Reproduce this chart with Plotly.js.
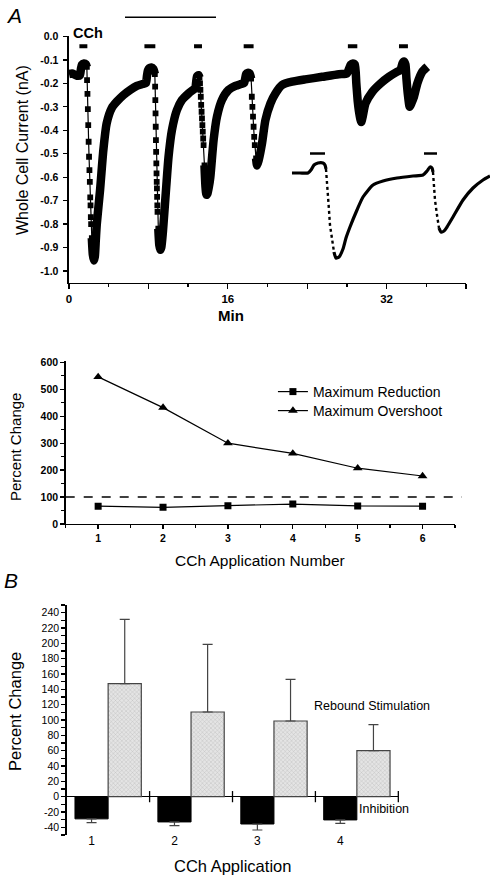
<!DOCTYPE html>
<html><head><meta charset="utf-8">
<script src="https://cdn.plot.ly/plotly-3.0.1.min.js"></script>
<style>html,body{margin:0;padding:0;background:#fff}#chart{width:490px;height:879px}</style>
</head><body><div id="chart"></div>
<script>
// ---------- Panel A (top): whole-cell current (nA) vs time (min) ----------
// slowly changing parts of the record (drawn as the dense, thick trace)
const recTime = [
  0.0,0.3,0.6,0.9,1.1,1.2,1.3,1.5,1.7,1.8, null,
  2.3,2.4,2.5,2.6,2.7,2.8, 3.13,3.46,3.8,4.31,4.81,5.48,6.16,6.83,7.4,7.75, 7.85,7.95,8.1,8.3,8.5,8.65, null,
  9.0,9.1,9.2,9.3,9.45,9.52, 9.8,10.03,10.37,10.87,11.38,12.04,12.5,12.72, 12.8,12.9,13.05,13.15, null,
  13.65,13.75,13.85,13.95,14.1,14.24, 14.57,14.91,15.41,16.08,16.76,17.3,17.65, 17.75,17.85,18.0,18.2,18.35, null,
  18.85,18.95,19.1, 19.45,19.79,20.3,20.8,21.47,22.48,23.8,25.5,27.19,28.0, 28.2,28.4,28.6,28.8,
  28.95,29.1,29.3,29.45,29.6, 29.88,30.56,31.4,32.24,33.08,33.4, 33.6,33.75,33.9,
  34.0,34.15,34.33,34.5, 34.76,35.1,35.6,36.1
];
const recCurrent = [
  -0.160,-0.158,-0.163,-0.168,-0.165,-0.140,-0.120,-0.115,-0.118,-0.130, null,
  -0.860,-0.930,-0.955,-0.940,-0.870,-0.800, -0.655,-0.485,-0.370,-0.305,-0.278,-0.250,-0.228,-0.211,-0.203,-0.198, -0.170,-0.145,-0.135,-0.132,-0.138,-0.160, null,
  -0.820,-0.890,-0.910,-0.900,-0.840,-0.800, -0.640,-0.513,-0.400,-0.314,-0.271,-0.243,-0.228,-0.221, -0.200,-0.170,-0.165,-0.175, null,
  -0.550,-0.640,-0.675,-0.670,-0.640,-0.600, -0.442,-0.342,-0.271,-0.228,-0.211,-0.203,-0.198, -0.180,-0.160,-0.155,-0.158,-0.180, null,
  -0.520,-0.550,-0.530, -0.456,-0.357,-0.285,-0.243,-0.207,-0.193,-0.183,-0.172,-0.161,-0.158, -0.140,-0.120,-0.115,-0.120,
  -0.200,-0.280,-0.340,-0.365,-0.340, -0.285,-0.236,-0.200,-0.172,-0.150,-0.143, -0.115,-0.107,-0.120,
  -0.180,-0.250,-0.300,-0.285, -0.257,-0.200,-0.150,-0.129
];
// fast falling phases, where individual samples are visible
const dropTime = [
  1.8,1.82,1.86,1.90,1.94,1.98,2.02,2.06,2.10,2.14,2.17,2.20,2.23,2.3, null,
  8.65,8.68,8.70,8.72,8.74,8.76,8.78,8.80,8.82,8.84,8.86,8.88,8.90,8.92,9.0, null,
  13.15,13.20,13.24,13.28,13.32,13.36,13.40,13.44,13.48,13.52,13.56,13.65, null,
  18.35,18.42,18.48,18.54,18.60,18.66,18.72,18.85
];
const dropCurrent = [
  -0.130,-0.186,-0.245,-0.310,-0.378,-0.449,-0.513,-0.570,-0.620,-0.686,-0.720,-0.770,-0.800,-0.860, null,
  -0.160,-0.214,-0.271,-0.328,-0.385,-0.442,-0.492,-0.541,-0.584,-0.620,-0.648,-0.684,-0.720,-0.748,-0.820, null,
  -0.175,-0.200,-0.228,-0.257,-0.292,-0.321,-0.349,-0.378,-0.406,-0.435,-0.463,-0.550, null,
  -0.180,-0.257,-0.300,-0.342,-0.385,-0.428,-0.463,-0.520
];
// CCh application periods (min)
const cchOn  = [1.05, 7.6, 12.6, 17.6, 28.1, 33.25];
const cchOff = [1.85, 8.7, 13.4, 18.6, 29.05, 34.15];
const cchLevel = -0.042;
const timeTicks = [0, 8, 16, 24, 32, 40];
const timeTickText = ['0', '', '16', '', '32', ''];

// inset: expanded record of the last two applications (arbitrary units)
const insetSolidX = [2,10,18,21,24,28,33,35,36,null,44,46,49,53,56,60,67,73,83,93,107,123,133,137,140,142,143,null,149,151,154,157,163,173,183,193,200];
const insetSolidY = [-23,-23,-23,-20,-15,-13,-13,-15,-19,null,-102,-108,-107,-99,-88,-77,-60,-47,-35,-31,-28,-26,-25,-21,-17,-18,-22,null,-78,-82,-81,-77,-67,-50,-38,-30,-26];
const insetDotX = [36,37,38,39,40,42,44,null,143,144,145,147,149];
const insetDotY = [-19,-30,-45,-60,-75,-90,-102,null,-22,-35,-50,-65,-78];
const insetCchOn = [20, 134];
const insetCchOff = [35, 147];
const insetCchLevel = -3.5;

// ---------- Panel A (bottom) ----------
const applicationNumber = [1, 2, 3, 4, 5, 6];
const maxReduction = [66, 62, 68, 74, 67, 66];
const maxOvershoot = [546, 432, 300, 262, 207, 178];
const controlLevel = 100;

// ---------- Panel B ----------
const applications = ['1', '2', '3', '4'];
const inhibition = [-29, -33, -35.7, -30.4];
const inhibitionErr = [4.8, 4.8, 7.8, 4.4];
const rebound = [147.4, 110.4, 98.7, 60];
const reboundErr = [84, 88.3, 54.3, 34];

// ---------- build ----------
const FONT = 'Liberation Sans, Arial, Helvetica, sans-serif';
const pairs = (on, off, lvl) => {
  const xs = [], ys = [];
  on.forEach((v, i) => { xs.push(v, off[i], null); ys.push(lvl, lvl, null); });
  return {xs, ys};
};
const cch = pairs(cchOn, cchOff, cchLevel);
const icch = pairs(insetCchOn, insetCchOff, insetCchLevel);
const appPos = applications.map((a, i) => i + 1);
const groupEdges = applications.map((a, i) => i + 1.5);

const traces = [
  {x: dropTime, y: dropCurrent, xaxis: 'x', yaxis: 'y', mode: 'lines+markers', showlegend: false,
   line: {color: '#000', width: 1.2}, marker: {symbol: 'square', size: 5.8, color: '#000'}, hoverinfo: 'skip'},
  {x: recTime, y: recCurrent, xaxis: 'x', yaxis: 'y', mode: 'lines', showlegend: false,
   line: {color: '#000', width: 8.5, shape: 'spline', smoothing: 0.6}, hoverinfo: 'skip'},
  {x: cch.xs, y: cch.ys, xaxis: 'x', yaxis: 'y', mode: 'lines', showlegend: false,
   line: {color: '#000', width: 4}, hoverinfo: 'skip'},
  // inset
  {x: insetSolidX, y: insetSolidY, xaxis: 'x4', yaxis: 'y4', mode: 'lines', showlegend: false,
   line: {color: '#000', width: 3.2, shape: 'spline', smoothing: 0.6}, hoverinfo: 'skip'},
  {x: insetDotX, y: insetDotY, xaxis: 'x4', yaxis: 'y4', mode: 'lines', showlegend: false,
   line: {color: '#000', width: 2.4, dash: 'dot'}, hoverinfo: 'skip'},
  {x: icch.xs, y: icch.ys, xaxis: 'x4', yaxis: 'y4', mode: 'lines', showlegend: false,
   line: {color: '#000', width: 2.5}, hoverinfo: 'skip'},
  // panel A bottom
  {x: applicationNumber, y: maxReduction, xaxis: 'x2', yaxis: 'y2', mode: 'lines+markers', name: 'Maximum Reduction',
   legend: 'legend', line: {color: '#000', width: 1.2}, marker: {symbol: 'square', size: 7, color: '#000'}},
  {x: applicationNumber, y: maxOvershoot, xaxis: 'x2', yaxis: 'y2', mode: 'lines+markers', name: 'Maximum Overshoot',
   legend: 'legend2', line: {color: '#000', width: 1.2}, marker: {symbol: 'triangle-up', size: 8.5, color: '#000'}},
  // panel B
  {type: 'bar', x: appPos.map(p => p - 0.2), y: inhibition, width: 0.4, xaxis: 'x3', yaxis: 'y3', showlegend: false,
   marker: {color: '#000', line: {color: '#000', width: 1}},
   error_y: {type: 'data', symmetric: false, array: inhibition.map(() => 0), arrayminus: inhibitionErr, color: '#444', thickness: 1.2, width: 5}},
  {type: 'bar', x: appPos.map(p => p + 0.2), y: rebound, width: 0.4, xaxis: 'x3', yaxis: 'y3', showlegend: false,
   marker: {color: '#dadada', line: {color: '#444', width: 1.2}, pattern: {shape: 'x', fgcolor: '#b8b8b8', bgcolor: '#e4e4e4', size: 3, solidity: 0.25}},
   error_y: {type: 'data', symmetric: false, array: reboundErr, arrayminus: rebound.map(() => 0), color: '#444', thickness: 1.2, width: 5}},
  {x: groupEdges, y: groupEdges.map(() => 0), xaxis: 'x3', yaxis: 'y3', mode: 'markers', showlegend: false,
   marker: {symbol: 'line-ns-open', size: 8, color: '#000', line: {color: '#000', width: 1.3}}, hoverinfo: 'skip', cliponaxis: false}
];

const yTicksA = []; for (let i = -10; i <= 0; i++) yTicksA.push(i / 10);
const yTicksB = []; for (let v = -40; v <= 240; v += 20) yTicksB.push(v);

const axBase = {showgrid: false, zeroline: false, showline: true, linecolor: '#000', linewidth: 1.5,
  ticks: 'outside', tickcolor: '#000', tickwidth: 1.3, automargin: false, fixedrange: true};

const legendBase = {xanchor: 'left', yanchor: 'middle', bgcolor: 'rgba(0,0,0,0)', font: {size: 14}, borderwidth: 0};

const layout = {
  width: 490, height: 879, margin: {l: 0, r: 0, t: 0, b: 0},
  paper_bgcolor: '#fff', plot_bgcolor: 'rgba(0,0,0,0)',
  font: {family: FONT, color: '#000'},
  barmode: 'overlay',
  xaxis: Object.assign({}, axBase, {domain: [0.1408, 0.951], anchor: 'y', range: [0, 40],
    tickvals: timeTicks, ticktext: timeTickText, ticklen: 5,
    minor: {dtick: 4, tick0: 0, ticklen: 3, ticks: 'outside', tickcolor: '#000'},
    tickfont: {size: 11.5, weight: 700}}),
  yaxis: Object.assign({}, axBase, {domain: [0.6784, 0.9585], anchor: 'x', range: [-1.05, 0],
    tickvals: yTicksA, ticktext: yTicksA.map(v => v.toFixed(1)), ticklen: 4,
    tickfont: {size: 10.5, weight: 700}, ticklabelstandoff: 3}),
  xaxis4: {domain: [0.5918, 1.0], anchor: 'y4', range: [0, 200], visible: false, fixedrange: true},
  yaxis4: {domain: [0.69852, 0.82935], anchor: 'x4', range: [-115, 0], visible: false, fixedrange: true},
  xaxis2: Object.assign({}, axBase, {domain: [0.1341, 0.9286], anchor: 'y2', range: [0.5, 6.5],
    dtick: 1, tick0: 0, ticklen: 4, minor: {dtick: 0.5, tick0: 0.5, ticklen: 3, ticks: 'outside', tickcolor: '#000'},
    tickfont: {size: 10.5, weight: 700}}),
  yaxis2: Object.assign({}, axBase, {domain: [0.4039, 0.5893], anchor: 'x2', range: [0, 605],
    dtick: 100, tick0: 0, ticklen: 4, minor: {dtick: 50, ticklen: 3, ticks: 'outside', tickcolor: '#000'},
    tickfont: {size: 10.5, weight: 700}}),
  xaxis3: Object.assign({}, axBase, {domain: [0.1361, 0.8129], anchor: 'y3', range: [0.5, 4.5],
    showline: false, ticks: '', tickvals: appPos.map(p => p - 0.2), ticktext: applications,
    tickfont: {size: 12}, ticklabelstandoff: -3}),
  yaxis3: Object.assign({}, axBase, {domain: [0.0501, 0.3117], anchor: 'x3', range: [-50, 250],
    tickvals: yTicksB, ticktext: yTicksB.map(String), ticklen: 4,
    minor: {dtick: 10, tick0: 0, ticklen: 4, ticks: 'outside', tickcolor: '#000'},
    zeroline: true, zerolinecolor: '#000', zerolinewidth: 1.5,
    tickfont: {size: 10.5}}),
  showlegend: true,
  legend: Object.assign({}, legendBase, {x: 0.557, y: 1 - 392 / 879}),
  legend2: Object.assign({}, legendBase, {x: 0.557, y: 1 - 411 / 879}),
  shapes: [
    {type: 'line', xref: 'paper', yref: 'paper', x0: 125 / 490, x1: 216 / 490, y0: 1 - 17.3 / 879, y1: 1 - 17.3 / 879,
     line: {color: '#000', width: 1.5}},
    {type: 'line', xref: 'x2 domain', yref: 'y2', x0: 0, x1: 1.018, y0: controlLevel, y1: controlLevel,
     line: {color: '#000', width: 1.5, dash: 'dash'}}
  ],
  annotations: [
    {text: 'A', xref: 'paper', yref: 'paper', x: 14 / 490, y: 1 - 16 / 879, showarrow: false,
     font: {size: 21, style: 'italic'}, xanchor: 'center', yanchor: 'middle'},
    {text: 'B', xref: 'paper', yref: 'paper', x: 11 / 490, y: 1 - 580 / 879, showarrow: false,
     font: {size: 21, style: 'italic'}, xanchor: 'center', yanchor: 'middle'},
    {text: 'CCh', xref: 'paper', yref: 'paper', x: 88 / 490, y: 1 - 33 / 879, showarrow: false,
     font: {size: 14.5, weight: 700}, xanchor: 'center', yanchor: 'middle'},
    {text: 'Whole Cell Current (nA)', xref: 'paper', yref: 'paper', x: 22 / 490, y: 1 - 150 / 879, showarrow: false,
     textangle: -90, font: {size: 16}, xanchor: 'center', yanchor: 'middle'},
    {text: 'Min', xref: 'paper', yref: 'paper', x: 231 / 490, y: 1 - 316 / 879, showarrow: false,
     font: {size: 15, weight: 700}, xanchor: 'center', yanchor: 'middle'},
    {text: 'Percent Change', xref: 'paper', yref: 'paper', x: 15 / 490, y: 1 - 447 / 879, showarrow: false,
     textangle: -90, font: {size: 15}, xanchor: 'center', yanchor: 'middle'},
    {text: 'CCh Application Number', xref: 'paper', yref: 'paper', x: 260 / 490, y: 1 - 560 / 879, showarrow: false,
     font: {size: 15.5}, xanchor: 'center', yanchor: 'middle'},
    {text: 'Percent Change', xref: 'paper', yref: 'paper', x: 15 / 490, y: 1 - 712 / 879, showarrow: false,
     textangle: -90, font: {size: 16.5}, xanchor: 'center', yanchor: 'middle'},
    {text: 'CCh Application', xref: 'paper', yref: 'paper', x: 232 / 490, y: 1 - 866 / 879, showarrow: false,
     font: {size: 16.5}, xanchor: 'center', yanchor: 'middle'},
    {text: 'Rebound Stimulation', xref: 'paper', yref: 'paper', x: 372 / 490, y: 1 - 705.7 / 879, showarrow: false,
     font: {size: 12.5}, xanchor: 'center', yanchor: 'middle'},
    {text: 'Inhibition', xref: 'paper', yref: 'paper', x: 384 / 490, y: 1 - 809 / 879, showarrow: false,
     font: {size: 12.5}, xanchor: 'center', yanchor: 'middle'}
  ]
};

Plotly.newPlot('chart', traces, layout, {displayModeBar: false, staticPlot: true});
</script>
</body></html>
